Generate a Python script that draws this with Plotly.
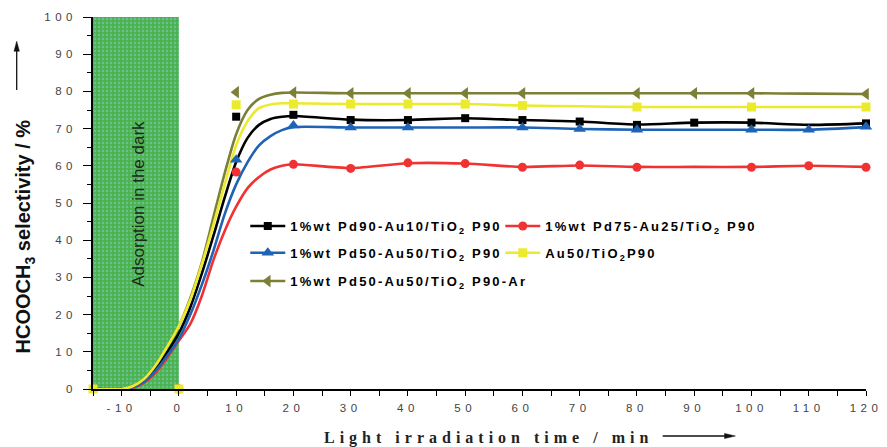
import plotly.graph_objects as go

# ---------------- data ----------------
x_tick_vals = [-10, 0, 10, 20, 30, 40, 50, 60, 70, 80, 90, 100, 110, 120]
x_tick_text = ["-10", "0", "10", "20", "30", "40", "50", "60", "70", "80", "90", "100", "110", "120"]
y_tick_vals = [0, 10, 20, 30, 40, 50, 60, 70, 80, 90, 100]
y_tick_text = ["0", "10", "20", "30", "40", "50", "60", "70", "80", "90", "100"]

dark_start = -15
dark_end = 0
dark_height = 100

series_names = [
    "1%wt Pd90-Au10/TiO<sub>2</sub> P90",
    "1%wt Pd75-Au25/TiO<sub>2</sub> P90",
    "1%wt Pd50-Au50/TiO<sub>2</sub> P90",
    "Au50/TiO<sub>2</sub>P90",
    "1%wt Pd50-Au50/TiO<sub>2</sub> P90-Ar",
]

# smooth curves
curve_x = [-15, -10, -8, -6, -4, -2, 0, 2, 4, 6, 8, 10, 12, 14, 16, 18, 20,
           30, 40, 50, 60, 70, 80, 90, 100, 110, 120]
black_curve = [0, 0, 0.5, 2.3, 5.5, 10, 15, 22, 31, 41, 51.5, 61, 67.5, 71, 72.6, 73.2, 73.4,
               72.4, 72.3, 72.8, 72.3, 71.9, 71.1, 71.6, 71.6, 71.0, 71.4]
red_curve = [0, 0, 0.3, 1.8, 4.5, 8.5, 13, 17.5, 25, 34.5, 42.5, 49, 54, 57, 59, 60, 60.4,
             59.4, 60.7, 60.6, 59.7, 60.1, 59.7, 59.7, 59.7, 60.0, 59.7]
blue_curve = [0, 0, 0.5, 2, 5, 9, 13.5, 20, 28, 37, 47, 55, 61, 65.5, 68, 69.6, 70.4,
              70.3, 70.3, 70.3, 70.3, 69.9, 69.7, 69.7, 69.7, 69.7, 70.4]
yellow_curve = [0, 0, 0.8, 2.8, 6.5, 11.5, 17, 24, 33.5, 44, 55, 65.5, 72, 75.5, 76.5, 76.8, 76.8,
                76.6, 76.6, 76.6, 76.2, 76.0, 75.8, 75.8, 75.8, 75.8, 75.8]
olive_curve = [0, 0, 0.8, 2.8, 6.5, 11.5, 17, 24.5, 34, 46, 58, 68.5, 75, 78, 79.1, 79.6, 79.7,
               79.5, 79.5, 79.5, 79.5, 79.5, 79.5, 79.5, 79.5, 79.4, 79.3]

# measured points (markers)
black_mx = [10, 20, 30, 40, 50, 60, 70, 80, 90, 100, 120]
black_my = [73.2, 73.7, 72.3, 72.3, 72.8, 72.3, 71.9, 71.0, 71.6, 71.6, 71.4]
red_mx = [0, 10, 20, 30, 40, 50, 60, 70, 80, 100, 110, 120]
red_my = [0, 58.3, 60.4, 59.3, 60.8, 60.6, 59.6, 60.2, 59.6, 59.6, 60.0, 59.6]
blue_mx = [10, 20, 30, 40, 60, 70, 80, 100, 110, 120]
blue_my = [61.6, 70.8, 70.3, 70.3, 70.3, 69.9, 69.7, 69.7, 69.7, 70.5]
yellow_mx = [-15, 0, 10, 20, 30, 40, 50, 60, 80, 100, 120]
yellow_my = [0, 0, 76.4, 76.6, 76.6, 76.6, 76.6, 76.2, 75.8, 75.8, 75.8]
olive_mx = [10, 20, 30, 40, 50, 60, 80, 90, 100, 120]
olive_my = [79.8, 79.7, 79.5, 79.5, 79.5, 79.5, 79.5, 79.5, 79.5, 79.3]

# ---------------- styles ----------------
styles = [
    dict(color="#000000", symbol="square", size=8, legend="legend"),
    dict(color="#f03232", symbol="circle", size=9, legend="legend"),
    dict(color="#1f63b5", symbol="triangle-up", size=11, legend="legend2"),
    dict(color="#ecea2c", symbol="square", size=9, legend="legend2"),
    dict(color="#7c7f36", symbol="triangle-left", size=11, legend="legend3"),
]
curves = [black_curve, red_curve, blue_curve, yellow_curve, olive_curve]
marks = [(black_mx, black_my), (red_mx, red_my), (blue_mx, blue_my),
         (yellow_mx, yellow_my), (olive_mx, olive_my)]
draw_order = [0, 1, 2, 4, 3]

fig = go.Figure()

# dark adsorption period
fig.add_trace(go.Bar(
    x=[(dark_start + dark_end) / 2], y=[dark_height], width=[dark_end - dark_start],
    marker=dict(color="#4cb24c", line=dict(width=0),
                pattern=dict(shape=".", fgcolor="#86cdd6", bgcolor="#4cb24c",
                             size=4, solidity=0.3)),
    showlegend=False, hoverinfo="skip",
))

for i in draw_order:
    st = styles[i]
    fig.add_trace(go.Scatter(
        x=curve_x, y=curves[i], mode="lines",
        line=dict(color=st["color"], width=2.6, shape="spline", smoothing=0.8),
        showlegend=False, hoverinfo="skip",
    ))
for i in draw_order:
    st = styles[i]
    mx, my = marks[i]
    fig.add_trace(go.Scatter(
        x=mx, y=my, mode="markers", cliponaxis=False,
        marker=dict(color=st["color"], symbol=st["symbol"], size=st["size"], line=dict(width=0)),
        showlegend=False, hoverinfo="skip",
    ))

# legend entries
for i in range(5):
    st = styles[i]
    fig.add_trace(go.Scatter(
        x=[None], y=[None], mode="lines+markers", name=series_names[i],
        line=dict(color=st["color"], width=2.6),
        marker=dict(color=st["color"], symbol=st["symbol"], size=st["size"]),
        legend=st["legend"],
    ))

tick_font = dict(family="Liberation Sans, Arial", size=11.5, color="#444444")
leg_common = dict(orientation="h", xanchor="left", yanchor="middle",
                  bgcolor="rgba(0,0,0,0)", entrywidth=205, entrywidthmode="pixels",
                  itemwidth=35,
                  font=dict(family="Liberation Sans, Arial", size=13, color="#000000", weight="bold"))

fig.update_layout(
    width=887, height=447,
    margin=dict(l=93, r=11, t=17, b=58),
    paper_bgcolor="white", plot_bgcolor="white",
    barmode="overlay",
    xaxis=dict(range=[-15, 120], showgrid=False, zeroline=False,
               showline=True, linecolor="#000000", linewidth=1.5,
               tickmode="array", tickvals=x_tick_vals, ticktext=x_tick_text,
               ticks="outside", ticklen=5, tickwidth=1.2, tickcolor="#000000",
               ticklabelstandoff=2,
               minor=dict(dtick=5, tick0=0, ticks="outside", ticklen=5, tickwidth=1.2, tickcolor="#000000"),
               tickfont=tick_font),
    yaxis=dict(range=[0, 100], showgrid=False, zeroline=False,
               showline=True, linecolor="#000000", linewidth=1.5,
               tickmode="array", tickvals=y_tick_vals, ticktext=y_tick_text,
               ticks="outside", ticklen=8, tickwidth=1.2, tickcolor="#000000",
               ticklabelstandoff=4,
               minor=dict(dtick=5, tick0=0, ticks="outside", ticklen=4, tickwidth=1.2, tickcolor="#000000"),
               tickfont=tick_font),
    legend=dict(x=0.197, y=0.438, **leg_common),
    legend2=dict(x=0.197, y=0.366, **leg_common),
    legend3=dict(x=0.197, y=0.290, **leg_common),
    showlegend=True,
)

# text annotations
fig.add_annotation(
    x=-7.2, y=49.7, xref="x", yref="y", text="Adsorption in the dark",
    textangle=-90, showarrow=False, xanchor="center", yanchor="middle",
    font=dict(family="Liberation Sans, Arial", size=17, color="#1a2a1a"),
)
fig.add_annotation(
    x=-0.0881, y=0.41, xref="paper", yref="paper",
    text="HCOOCH<sub>3</sub> selectivity / %", textangle=-90, showarrow=False,
    xanchor="center", yanchor="middle",
    font=dict(family="Liberation Sans, Arial", size=20, color="#111111", weight="bold"),
)
fig.add_annotation(
    x=0.512, y=-0.131, xref="paper", yref="paper",
    text="Light irradiation time / min", showarrow=False,
    xanchor="center", yanchor="middle",
    font=dict(family="Liberation Serif, Times New Roman", size=16, color="#222222", weight="bold"),
)

# decorative axis arrows (paper coordinates)
arrow_col = "#111111"
fig.add_shape(type="line", xref="paper", yref="paper", x0=-0.0987, x1=-0.0987, y0=0.804, y1=0.915,
              line=dict(color=arrow_col, width=1.3))
fig.add_shape(type="path", xref="paper", yref="paper",
              path="M -0.0987 0.935 L -0.1022 0.908 L -0.0952 0.908 Z",
              fillcolor=arrow_col, line=dict(color=arrow_col, width=0.5))
fig.add_shape(type="line", xref="paper", yref="paper", x0=0.737, x1=0.822, y0=-0.1263, y1=-0.1263,
              line=dict(color=arrow_col, width=1.3))
fig.add_shape(type="path", xref="paper", yref="paper",
              path="M 0.831 -0.1263 L 0.817 -0.1194 L 0.817 -0.1332 Z",
              fillcolor=arrow_col, line=dict(color=arrow_col, width=0.5))

post = """
var st = document.createElement('style');
st.textContent = '.legendtext, .legend2text, .legend3text{letter-spacing:2.2px !important;} ' +
  '.scrollbox{clip-path:none !important;} ' +
  '.xtick text, .ytick text{letter-spacing:4.5px !important;} ' +
  '.annotation[data-index="2"] .annotation-text{letter-spacing:5px !important;}';
document.head.appendChild(st);
"""

fig.write_html("out.html", post_script=post)
